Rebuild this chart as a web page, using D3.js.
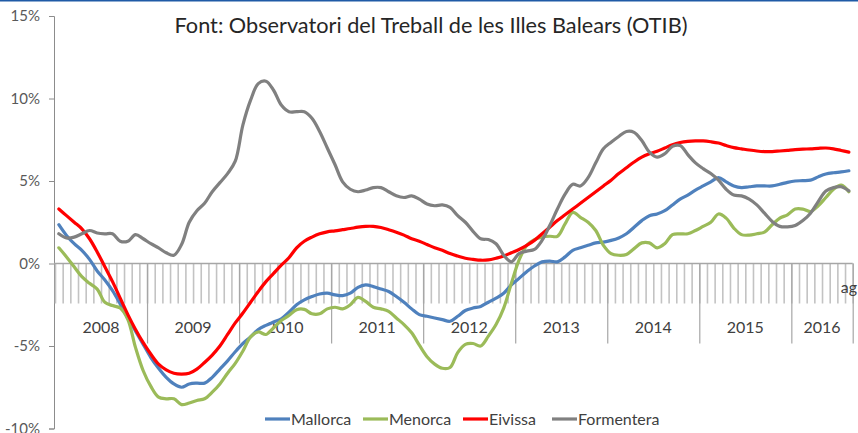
<!DOCTYPE html>
<html>
<head>
<meta charset="utf-8">
<script src="https://cdn.jsdelivr.net/npm/d3@7"></script>
<style>
  html, body { margin: 0; padding: 0; background: #fff; }
  svg { display: block; font-family: Lato, "Open Sans", sans-serif; }
</style>
</head>
<body>
<svg id="chart" width="858" height="433"></svg>
<script>
// ---- Data (monthly, Jan 2008 – Aug 2016) ----
const years = ["2008","2009","2010","2011","2012","2013","2014","2015","2016"];
const monthsInYear = [12,12,12,12,12,12,12,12,8];
const yTicks = [-10, -5, 0, 5, 10, 15];
const lastMonthLabel = "ag";
const seriesNames = ["Mallorca", "Menorca", "Eivissa", "Formentera"];

const mallorca = [
  2.35,1.7,1.2,0.8,0.25,-0.45,-1.0,-1.65,-2.45,-3.3,-4.1,-4.9,
  -5.7,-6.35,-6.9,-7.3,-7.5,-7.3,-7.25,-7.25,-6.9,-6.4,-5.9,-5.35,
  -4.85,-4.45,-4.0,-3.75,-3.55,-3.35,-2.95,-2.5,-2.2,-2.0,-1.85,-1.8,
  -1.9,-1.95,-1.8,-1.45,-1.3,-1.4,-1.55,-1.7,-2.0,-2.35,-2.75,-3.1,
  -3.2,-3.3,-3.4,-3.5,-3.2,-2.85,-2.7,-2.6,-2.35,-2.1,-1.8,-1.3,
  -0.9,-0.5,-0.15,0.1,0.15,0.1,0.4,0.8,0.95,1.1,1.25,1.3,
  1.4,1.55,1.8,2.2,2.6,2.9,3.0,3.2,3.55,3.9,4.15,4.45,
  4.7,4.95,5.2,4.95,4.7,4.6,4.65,4.7,4.7,4.7,4.8,4.92,
  5.0,5.02,5.05,5.25,5.42,5.5,5.55,5.62
];
const menorca = [
  0.95,0.4,-0.2,-0.8,-1.2,-1.55,-2.35,-2.55,-2.7,-3.4,-5.1,-6.5,
  -7.45,-8.1,-8.2,-8.2,-8.55,-8.45,-8.3,-8.2,-7.8,-7.3,-6.65,-6.05,
  -5.3,-4.45,-4.15,-4.3,-3.9,-3.45,-3.15,-2.8,-2.78,-3.05,-3.05,-2.75,
  -2.65,-2.75,-2.5,-2.05,-2.3,-2.65,-2.75,-2.9,-3.3,-3.7,-4.2,-4.95,
  -5.65,-6.1,-6.35,-6.3,-5.4,-4.9,-4.85,-5.0,-4.4,-3.7,-2.7,-1.2,
  0.2,1.1,1.45,1.6,1.65,1.65,2.4,3.1,2.8,2.5,2.0,1.1,
  0.6,0.5,0.55,0.9,1.25,1.25,0.95,1.2,1.75,1.8,1.8,2.0,
  2.25,2.5,3.0,2.75,2.15,1.75,1.72,1.8,1.9,2.35,2.75,2.95,
  3.3,3.3,3.15,3.5,4.0,4.5,4.75,4.35
];
const eivissa = [
  3.3,2.9,2.5,2.1,1.5,0.7,-0.2,-1.1,-2.1,-3.1,-4.0,-4.8,
  -5.5,-6.1,-6.45,-6.65,-6.7,-6.65,-6.4,-6.0,-5.55,-5.0,-4.3,-3.6,
  -3.0,-2.35,-1.7,-1.1,-0.6,-0.1,0.35,0.95,1.35,1.6,1.8,1.92,
  1.98,2.05,2.12,2.2,2.25,2.25,2.18,2.05,1.9,1.72,1.5,1.35,
  1.15,0.95,0.8,0.6,0.45,0.32,0.25,0.2,0.22,0.32,0.45,0.65,
  0.85,1.1,1.4,1.8,2.2,2.6,2.95,3.3,3.65,4.0,4.35,4.7,
  5.05,5.45,5.8,6.15,6.45,6.65,6.8,7.0,7.2,7.33,7.4,7.43,
  7.43,7.38,7.3,7.15,7.02,6.95,6.88,6.82,6.78,6.78,6.82,6.86,
  6.9,6.93,6.95,6.98,7.0,6.95,6.85,6.75
];
const formentera = [
  1.8,1.55,1.6,1.8,2.0,1.85,1.8,1.8,1.35,1.35,1.75,1.5,
  1.2,0.95,0.65,0.5,1.15,2.5,3.2,3.65,4.35,4.9,5.45,6.2,
  8.4,9.9,10.9,11.05,10.5,9.6,9.2,9.2,9.2,8.8,8.0,7.0,
  6.0,4.95,4.5,4.35,4.45,4.6,4.6,4.35,4.1,4.0,4.1,3.9,
  3.6,3.5,3.55,3.4,2.9,2.5,1.95,1.5,1.45,1.2,0.5,0.1,
  0.6,0.75,0.85,1.4,2.3,3.3,4.2,4.8,4.7,5.2,6.1,6.95,
  7.35,7.7,8.0,7.95,7.45,6.75,6.45,6.65,7.1,7.15,6.6,6.1,
  5.75,5.45,5.05,4.5,4.15,4.1,3.9,3.55,3.05,2.55,2.25,2.22,
  2.3,2.6,3.05,3.75,4.4,4.6,4.65,4.4
];
const seriesColors = ["#4f81bd", "#9bbb59", "#ff0000", "#808080"];

// ---- Chart ----
const svg = d3.select("#chart");
const nMonths = d3.sum(monthsInYear);
const all = [mallorca, menorca, eivissa, formentera];

const x = d3.scaleLinear().domain([0, nMonths]).range([55, 852.7]);
const y = d3.scaleLinear().domain([-10, 15]).range([428.5, 16]);

// top border
svg.append("line").attr("x1", 0).attr("x2", 858).attr("y1", 0.5).attr("y2", 0.5)
  .attr("stroke", "#1f5aa6").attr("stroke-width", 2);

// title
const title = svg.append("text")
  .attr("x", 431).attr("y", 33)
  .attr("text-anchor", "middle")
  .attr("fill", "#262626")
  .style("font-size", "21px")
  .text("Font: Observatori del Treball de les Illes Balears (OTIB)");
const tw = title.node().getComputedTextLength();
title.style("font-size", (21 * 513 / tw).toFixed(2) + "px");

// y axis
const yAxis = svg.append("g").attr("transform", "translate(54,0)")
  .call(d3.axisLeft(y).tickValues(yTicks).tickSize(5).tickPadding(9).tickFormat(d => d + "%"));
yAxis.select(".domain").attr("stroke", "#8c8c8c").attr("stroke-width", 1);
yAxis.selectAll(".tick line").attr("stroke", "#8c8c8c");
yAxis.selectAll(".tick text").attr("fill", "#595959").style("font-size", "15px")
  .style("font-family", "Lato, sans-serif");

// month ticks (hanging from zero line)
const monthTicks = svg.append("g").attr("transform", `translate(0,${y(0)})`)
  .call(d3.axisBottom(x).tickValues(d3.range(0, nMonths + 1)).tickSize(40).tickFormat(""));
monthTicks.select(".domain").remove();
monthTicks.selectAll(".tick line").attr("stroke", "#c3c3c3").attr("stroke-width", 1.6);

// year boundary ticks
const yearBounds = [0];
monthsInYear.forEach((m, i) => yearBounds.push(yearBounds[i] + m));
const yearTicks = svg.append("g").attr("transform", `translate(0,${y(0)})`)
  .call(d3.axisBottom(x).tickValues(yearBounds.slice(1)).tickSize(80).tickFormat(""));
yearTicks.select(".domain").remove();
yearTicks.selectAll(".tick line").attr("stroke", "#a6a6a6").attr("stroke-width", 1.2);

// zero line
svg.append("line").attr("x1", 54).attr("x2", x(nMonths)).attr("y1", y(0)).attr("y2", y(0))
  .attr("stroke", "#a6a6a6").attr("stroke-width", 1.5);

// year labels
svg.append("g").selectAll("text").data(years).join("text")
  .attr("x", (d, i) => x((yearBounds[i] + yearBounds[i + 1]) / 2))
  .attr("y", 333)
  .attr("text-anchor", "middle")
  .attr("fill", "#404040")
  .style("font-size", "16px")
  .text(d => d);

// last month label (clipped at edge)
svg.append("text").attr("x", x(nMonths - 0.5) - 8).attr("y", 293)
  .attr("fill", "#404040").style("font-size", "16px").text(lastMonthLabel);

// lines
const line = d3.line()
  .x((d, i) => x(i + 0.5))
  .y(d => y(d))
  .curve(d3.curveCatmullRom.alpha(0.5));

const order = [0, 1, 2, 3];
svg.append("g").selectAll("path").data(order).join("path")
  .attr("d", k => line(all[k]))
  .attr("fill", "none")
  .attr("stroke", k => seriesColors[k])
  .attr("stroke-width", 3.2)
  .attr("stroke-linejoin", "round")
  .attr("stroke-linecap", "round");

// legend
const legendX = [265, 363, 463, 552];
const lg = svg.append("g").selectAll("g").data(seriesNames).join("g")
  .attr("transform", (d, i) => `translate(${legendX[i]},419)`);
lg.append("line").attr("x1", 0).attr("x2", 25).attr("y1", 0).attr("y2", 0)
  .attr("stroke", (d, i) => seriesColors[i]).attr("stroke-width", 3.2);
lg.append("text").attr("x", 26).attr("y", 6)
  .attr("fill", "#404040").style("font-size", "16px").text(d => d);
</script>
</body>
</html>
